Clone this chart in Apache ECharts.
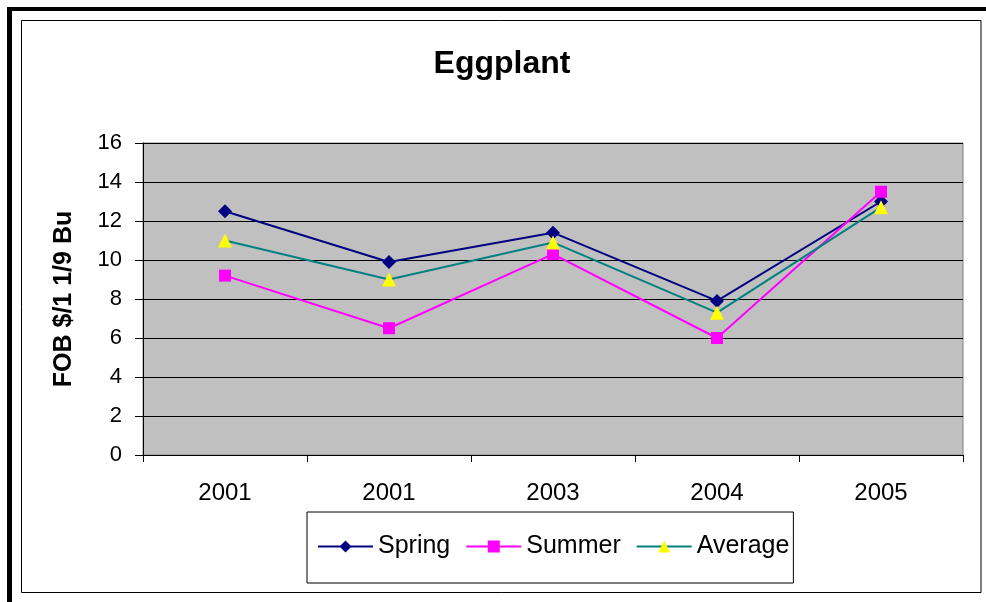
<!DOCTYPE html>
<html>
<head>
<meta charset="utf-8">
<script src="https://cdn.jsdelivr.net/npm/echarts@6/dist/echarts.min.js"></script>
<style>
html,body{margin:0;padding:0;background:#fff;}
#c{width:986px;height:602px;}
</style>
</head>
<body>
<div id="c"></div>
<script>
const categories = ['2001', '2001', '2003', '2004', '2005'];
const spring = [12.5, 9.9, 11.4, 7.9, 13.0];
const summer = [9.2, 6.5, 10.3, 6.0, 13.5];
const average = [11.0, 9.0, 10.9, 7.3, 12.7];
const yTicks = { min: 0, max: 16, interval: 2 };

const chart = echarts.init(document.getElementById('c'), null, { renderer: 'canvas' });
const font = 'Arial, "Liberation Sans", sans-serif';

chart.setOption({
  backgroundColor: '#fff',
  animation: false,
  title: {
    text: 'Eggplant',
    left: 497,
    top: 43,
    textAlign: 'center',
    textStyle: { fontFamily: font, fontSize: 32, fontWeight: 'bold', color: '#000' }
  },
  graphic: [
    { type: 'rect', shape: { x: 21.5, y: 20.5, width: 959.5, height: 572 }, style: { fill: null, stroke: '#000', lineWidth: 1 }, z: -1 },
    { type: 'rect', shape: { x: 7, y: 7, width: 990, height: 4 }, style: { fill: '#000' } },
    { type: 'rect', shape: { x: 7, y: 7, width: 5, height: 600 }, style: { fill: '#000' } }
  ],
  grid: {
    left: 143, right: 23, top: 143, bottom: 147,
    show: true, backgroundColor: '#C0C0C0', borderColor: '#808080', borderWidth: 1
  },
  legend: {
    left: 307, top: 512,
    padding: [22, 4, 24, 10],
    borderColor: '#000', borderWidth: 1,
    itemWidth: 55, itemHeight: 15, itemGap: 15,
    textStyle: { fontFamily: font, fontSize: 25, color: '#000' },
    data: ['Spring', 'Summer', 'Average']
  },
  xAxis: {
    type: 'category',
    data: categories,
    boundaryGap: true,
    axisLine: { lineStyle: { color: '#000', width: 1 } },
    axisTick: { show: true, length: 7, lineStyle: { color: '#000' } },
    axisLabel: { margin: 26, fontFamily: font, fontSize: 24, color: '#000' },
    splitLine: { show: false }
  },
  yAxis: {
    type: 'value',
    min: yTicks.min, max: yTicks.max, interval: yTicks.interval,
    name: 'FOB $/1 1/9 Bu',
    nameLocation: 'middle',
    nameGap: 66,
    nameRotate: 90,
    nameTextStyle: { fontFamily: font, fontSize: 25, fontWeight: 'bold', color: '#000' },
    axisLine: { show: true, lineStyle: { color: '#000', width: 1 } },
    axisTick: { show: true, length: 8, lineStyle: { color: '#000' } },
    axisLabel: { margin: 21, fontFamily: font, fontSize: 22, color: '#000' },
    splitLine: { show: true, lineStyle: { color: '#000', width: 1 } }
  },
  series: [
    {
      name: 'Spring', type: 'line', data: spring,
      symbol: 'diamond', symbolSize: 14,
      lineStyle: { color: '#000080', width: 2 },
      itemStyle: { color: '#000080' }
    },
    {
      name: 'Summer', type: 'line', data: summer,
      symbol: 'rect', symbolSize: 12,
      lineStyle: { color: '#FF00FF', width: 2 },
      itemStyle: { color: '#FF00FF' }
    },
    {
      name: 'Average', type: 'line', data: average,
      symbol: 'triangle', symbolSize: 14,
      lineStyle: { color: '#008080', width: 2 },
      itemStyle: { color: '#FFFF00' }
    }
  ]
});
</script>
</body>
</html>
